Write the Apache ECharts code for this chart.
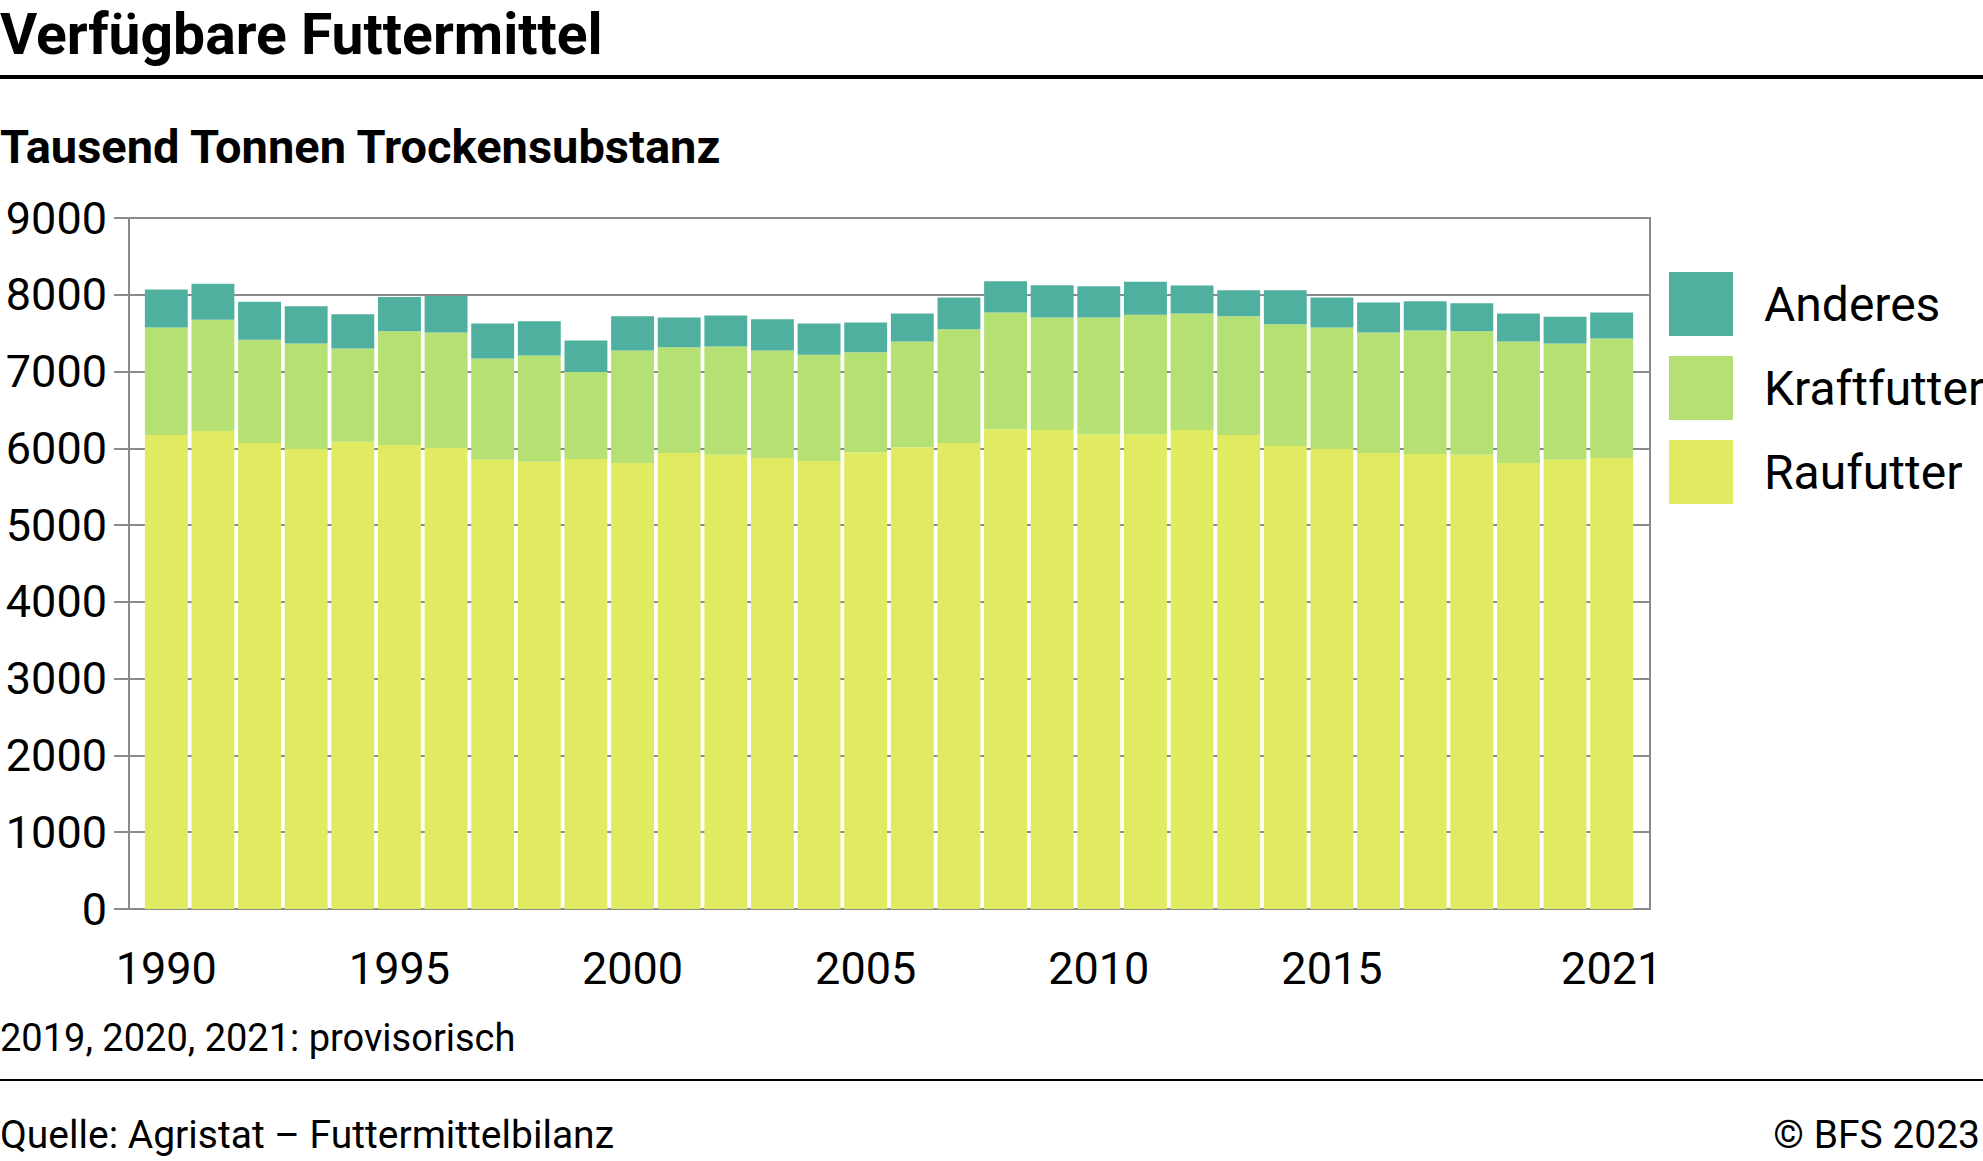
<!DOCTYPE html>
<html>
<head>
<meta charset="utf-8">
<script src="https://cdn.jsdelivr.net/npm/echarts@6/dist/echarts.min.js"></script>
<style>
html,body{margin:0;padding:0;background:#fff;}
#c{width:1983px;height:1161px;}
</style>
</head>
<body>
<div id="c"></div>
<script>
const years = ['1990','1991','1992','1993','1994','1995','1996','1997','1998','1999','2000','2001','2002','2003','2004','2005','2006','2007','2008','2009','2010','2011','2012','2013','2014','2015','2016','2017','2018','2019','2020','2021'];
const raufutter = [6175,6225,6070,5990,6085,6045,6005,5850,5825,5860,5810,5940,5915,5875,5835,5950,6015,6070,6250,6240,6185,6185,6240,6175,6030,5990,5940,5925,5915,5810,5850,5875];
const kraftfutter = [1400,1450,1345,1375,1215,1480,1505,1320,1385,1135,1465,1375,1410,1400,1385,1300,1375,1480,1520,1465,1520,1555,1515,1545,1585,1585,1570,1610,1610,1580,1515,1555];
const anderes = [495,470,495,485,445,445,475,455,445,410,445,390,405,405,405,390,365,415,405,420,405,430,365,340,445,390,390,380,365,365,350,340];
const yTicks = [0,1000,2000,3000,4000,5000,6000,7000,8000,9000];
const shownYears = ['1990','1995','2000','2005','2010','2015','2021'];

const GRID = '#8a8a8a';
const chart = echarts.init(document.getElementById('c'), null, {renderer:'svg'});
const font = 'Roboto, "Noto Sans", sans-serif';
const yMin = yTicks[0], yMax = yTicks[yTicks.length-1];

chart.setOption({
  animation:false,
  backgroundColor:'#fff',
  textStyle:{fontFamily:font},
  grid:[
    {left:143,right:348,top:218,bottom:252,outerBoundsMode:'none',containLabel:false},
    {left:129,right:333,top:218,bottom:252,outerBoundsMode:'none',containLabel:false,show:true,borderColor:GRID,borderWidth:2,backgroundColor:'transparent'}
  ],
  legend:{
    orient:'vertical', left:1669, top:272, padding:0,
    itemWidth:64, itemHeight:64, itemGap:20, icon:'rect',
    data:['Anderes','Kraftfutter','Raufutter'],
    textStyle:{fontSize:48, color:'#000', fontFamily:font, padding:[0,0,0,26]}
  },
  xAxis:[
    {
      gridIndex:0, type:'category', data:years,
      axisLine:{show:false},
      axisTick:{show:false},
      axisLabel:{
        fontSize:45, color:'#000', margin:37, fontFamily:font,
        interval:function(i,v){return shownYears.indexOf(v)>=0;}
      }
    },
    {
      gridIndex:1, type:'value', min:0, max:1,
      axisLine:{show:true, onZero:false, lineStyle:{color:GRID, width:2}},
      axisTick:{show:false}, axisLabel:{show:false}, splitLine:{show:false}
    }
  ],
  yAxis:[
    {
      gridIndex:0, type:'value', min:yMin, max:yMax, interval:1000,
      show:false, splitLine:{show:false}
    },
    {
      gridIndex:1, type:'value', min:yMin, max:yMax, interval:1000,
      axisLine:{show:true, lineStyle:{color:GRID, width:2}},
      axisTick:{show:true, length:15, lineStyle:{color:GRID, width:2}},
      splitLine:{show:true, lineStyle:{color:GRID, width:2}},
      axisLabel:{fontSize:45, color:'#000', margin:22, fontFamily:font, formatter:function(v){return String(v);}}
    }
  ],
  series:[
    {name:'Raufutter', type:'bar', stack:'t', xAxisIndex:0, yAxisIndex:0, data:raufutter, barCategoryGap:'8%', itemStyle:{color:'#e1eb62'}, z:3},
    {name:'Kraftfutter', type:'bar', stack:'t', xAxisIndex:0, yAxisIndex:0, data:kraftfutter, itemStyle:{color:'#b5e174'}, z:3},
    {name:'Anderes', type:'bar', stack:'t', xAxisIndex:0, yAxisIndex:0, data:anderes, itemStyle:{color:'#50b0a0'}, z:3}
  ],
  graphic:[
    {type:'text', left:0, top:6, style:{text:'Verfügbare Futtermittel', font:'bold 57px '+font, fill:'#000'}},
    {type:'rect', shape:{x:0,y:75,width:1983,height:4}, style:{fill:'#000'}},
    {type:'text', left:0, top:123, style:{text:'Tausend Tonnen Trockensubstanz', font:'bold 47px '+font, fill:'#000'}},
    {type:'text', left:0, top:1019, style:{text:'2019, 2020, 2021: provisorisch', font:'38px '+font, fill:'#000'}},
    {type:'rect', shape:{x:0,y:1079,width:1983,height:2}, style:{fill:'#000'}},
    {type:'text', left:0, top:1115, style:{text:'Quelle: Agristat – Futtermittelbilanz', font:'39px '+font, fill:'#000'}},
    {type:'text', right:3, top:1115, style:{text:'© BFS 2023', font:'39px '+font, fill:'#000'}}
  ]
});
</script>
</body>
</html>
